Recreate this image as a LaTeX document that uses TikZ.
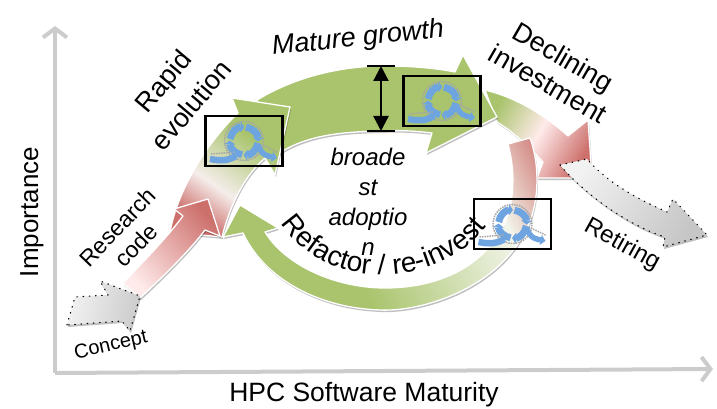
\documentclass[tikz,border=0pt]{standalone}
\usepackage{fontspec}
\setmainfont{Liberation Sans}
\usetikzlibrary{arrows.meta, shadows, decorations.text}

\definecolor{greenarrow}{RGB}{169,196,108}
\definecolor{redarrow}{RGB}{205,112,108}
\definecolor{axisgray}{RGB}{204,204,204}
\definecolor{cycleblue}{RGB}{110,165,225}

% green at the head, white low on the right, red at the tail
\pgfdeclarehorizontalshading{refactorshade}{100bp}{rgb(0bp)=(.663,.769,.424); rgb(42bp)=(.663,.769,.424); rgb(71bp)=(.95,.96,.92); rgb(84bp)=(.804,.439,.424); rgb(100bp)=(.804,.439,.424)}
% red at the foot, white low down, green from the box upward
\pgfdeclarehorizontalshading{rapidshade}{100bp}{rgb(0bp)=(.804,.439,.424); rgb(26bp)=(.804,.439,.424); rgb(41bp)=(.96,.93,.92); rgb(64bp)=(.663,.769,.424); rgb(100bp)=(.663,.769,.424)}

\newcommand{\labfont}[1]{\fontsize{#1}{#1}\selectfont}

\tikzset{
  bandarrow/.style={draw=white, line width=1.3pt, line join=round,
    drop shadow={shadow xshift=1pt, shadow yshift=-2pt, opacity=.25, fill=black}},
  dotarrow/.style={draw=black, line width=1.2pt, line join=round, line cap=round,
    dash pattern=on 0.6pt off 5.6pt,
    drop shadow={shadow xshift=1pt, shadow yshift=-2pt, opacity=.25, fill=black}},
  axisline/.style={draw=axisgray, line width=4pt, -{Straight Barb[length=9pt,width=24pt]}},
  lab/.style={align=center, inner sep=0pt},
  cyclebox/.style={draw=black, line width=2.8pt, minimum width=77pt, minimum height=50pt, inner sep=0pt},
  cycleicon/.pic={
    \begin{scope}[y=1pt]
    \draw[gray!70, line width=1.5pt, dash pattern=on 1.5pt off 1pt] (0,0) circle (19.5);
    \foreach \a in {0,90,180,270} {
      \draw[cycleblue, line width=7pt, -{Triangle[length=4pt,width=11pt]}] (\a+172:14) arc (\a+172:\a+88:14);
    }
    \draw[gray!70, line width=1.5pt, dash pattern=on 1.5pt off 1pt] (-33,-13) -- (-9,-11) (16,-3) -- (33,-11);
    \draw[cycleblue, line width=6.5pt] (-34,-18) .. controls (-24,-20) and (-16,-20) .. (-8,-15);
    \draw[cycleblue, line width=5.5pt, -{Triangle[length=5pt,width=10pt]}] (14,-4) .. controls (18,-15) and (24,-15) .. (33,-17);
    \end{scope}
  }
}

\begin{document}
\begin{tikzpicture}[x=1pt,y=-1pt]
\useasboundingbox (0,0) rectangle (717,409);

% axes
\coordinate (orig) at (55,373);
\coordinate (ytop) at (55,26);
\coordinate (xend) at (713,369);
\draw[axisline] (orig) -- (ytop);
\draw[axisline] (orig) -- (xend);
\node[lab, rotate=90, font=\labfont{26}] (ylab) at (32,212) {Importance};
\node[lab, font=\labfont{26.5}] (xlab) at (364,395) {HPC Software Maturity};

% declining investment band
\path[bandarrow, top color=greenarrow, bottom color=redarrow, middle color=white!92!red, shading angle=60]
  (485,90) .. controls (515,97) and (545,115) .. (568,136) -- (588,120) -- (592,178) -- (537,178) -- (543,162)
  .. controls (530,148) and (515,133) .. (497,122) -- cycle;

% mature growth band
\path[bandarrow, fill=greenarrow]
  (257,100) .. controls (295,77) and (340,66) .. (385,66) .. controls (410,66) and (435,68) .. (455,72)
  -- (463,55) -- (497,117) -- (426,153) -- (432,133) .. controls (415,131) and (400,130) .. (380,131)
  .. controls (340,132) and (300,135) .. (270,160) -- cycle;

% rapid evolution band
\path[bandarrow, shading=rapidshade, shading angle=55]
  (170,232) .. controls (178,190) and (205,145) .. (238,113) -- (232,98) -- (290,107) -- (275,175) -- (265,158)
  .. controls (245,175) and (230,205) .. (222,237) -- cycle;

% refactor band
\path[bandarrow, shading=refactorshade, shading angle=25]
  (508,144) -- (530,138) .. controls (540,165) and (540,205) .. (525,232) .. controls (495,290) and (420,312) .. (380,310)
  .. controls (320,308) and (265,280) .. (243,233) -- (223,237) -- (240,205) -- (278,228) -- (265,232)
  .. controls (285,265) and (335,288) .. (385,288) .. controls (440,288) and (490,265) .. (508,215)
  .. controls (514,195) and (515,170) .. (508,144) -- cycle;

% research code band
\path[bandarrow, top color=redarrow, bottom color=red!8, shading angle=-48]
  (123,283) .. controls (140,265) and (165,240) .. (183,216) -- (174,209) -- (208,199) -- (220,236) -- (205,230)
  .. controls (190,250) and (165,275) .. (140,298) -- cycle;

% concept and retiring
\path[dotarrow, top color=gray!10, bottom color=gray!40, shading angle=80]
  (67,325) -- (75,297) -- (108,295) -- (100,281) -- (140,296) -- (130,331) -- (122,321) -- cycle;
\path[dotarrow, top color=gray!10, bottom color=gray!45, shading angle=60]
  (560,165) -- (587,159) .. controls (610,185) and (640,200) .. (667,212) -- (673,199) -- (707,235) -- (663,247) -- (665,237)
  .. controls (635,228) and (590,200) .. (560,165) -- cycle;

% width marker
\coordinate (bartop) at (381,66);
\coordinate (barbot) at (381,131);
\draw[line width=2.2pt] ([xshift=-14pt]bartop) -- ([xshift=14pt]bartop);
\draw[line width=2.2pt] ([xshift=-14pt]barbot) -- ([xshift=14pt]barbot);
\draw[line width=2.2pt, {Triangle[length=15pt,width=15pt]}-{Triangle[length=15pt,width=15pt]}] (bartop) -- (barbot);

% cycle boxes
\node[cyclebox] (boxrapid) at (244,141) {};
\node[cyclebox] (boxmature) at (442,101) {};
\node[cyclebox] (boxrefactor) at (512.5,224) {};
\pic at (boxrapid) {cycleicon};
\pic at (boxmature) {cycleicon};
\pic at (boxrefactor) {cycleicon};

% labels
\node[lab, rotate=50, font=\labfont{27}] (rapid) at (177,93) {Rapid\\[10pt]evolution};
\node[lab, rotate=6, font=\itshape\labfont{27}] (mature) at (358,39) {Mature growth};
\node[lab, rotate=-30, font=\labfont{27}] (declining) at (556,70) {Declining\\[4pt]investment};
\node[lab, rotate=46, font=\labfont{23}] (research) at (127,236) {Research\\[3pt]code};
\node[lab, rotate=13, font=\labfont{20}] (concept) at (111,346) {Concept};
\node[lab, rotate=-29, font=\labfont{24}] (retiring) at (622,245) {Retiring};
\node[lab, font=\itshape\labfont{24}] (broadest) at (368,202) {broade\\[6pt]st\\[6pt]adoptio\\[6pt]n};
\coordinate (refstart) at (278,218);
\coordinate (refend) at (490,222);
\path[decorate, decoration={text along path, text align=center, text={|\labfont{28}|Refactor / re-invest}}]
  (refstart) .. controls (320,293) and (440,293) .. (refend);
\end{tikzpicture}
\end{document}
